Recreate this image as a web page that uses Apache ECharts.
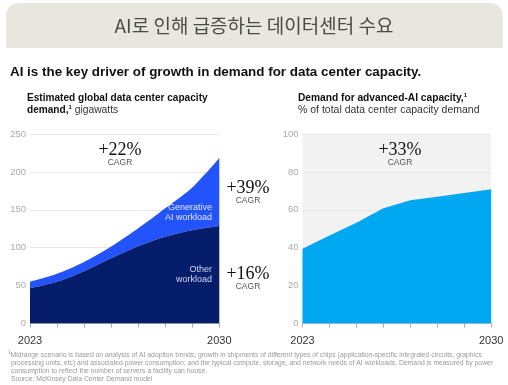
<!DOCTYPE html>
<html><head><meta charset="utf-8">
<script src="https://cdn.jsdelivr.net/npm/echarts@6/dist/echarts.min.js"></script>
<style>html,body{margin:0;padding:0;background:#fff}#c{width:508px;height:385px}</style>
</head><body><div id="c"></div>
<script>
const years = ['2023','2024','2025','2026','2027','2028','2029','2030'];
const otherWorkload = [46.5, 55, 69, 86, 102, 114.5, 123, 128.5];
const generativeAI = [8.5, 10.5, 12, 15.5, 23.5, 37.5, 56.5, 90];
const advancedAIShare = [39.5, 46.5, 53.2, 60.8, 65, 66.9, 68.9, 70.8];
const leftTicks = {min: 0, max: 250, interval: 50};
const rightTicks = {min: 0, max: 100, interval: 20};

const chart = echarts.init(document.getElementById('c'), null, {renderer: 'canvas'});
const sans = 'Liberation Sans, Arial, sans-serif';
const serif = 'Liberation Serif, Times New Roman, serif';
function xAx(gi){
  return {type:'category', gridIndex:gi, data:years, boundaryGap:false,
    axisLine:{lineStyle:{color:'#bbb', width:1}},
    axisTick:{show:true, interval:0, length:4, lineStyle:{color:'#aaa'}},
    axisLabel:{interval:6, color:'#333', fontSize:11, fontFamily:sans, margin:12},
    splitLine:{show:false}};
}
function yAx(gi, t){
  return {type:'value', gridIndex:gi, min:t.min, max:t.max, interval:t.interval,
    axisLine:{show:false}, axisTick:{show:false},
    axisLabel:{color:'#aaa', fontSize:9.5, fontFamily:sans, margin:4},
    splitLine:{lineStyle:{color:'#e6e6e6', width:1}}};
}
function txt(x, y, s, font, color, align, extra){
  return Object.assign({type:'text', x:x, y:y, style:{text:s, font:font, fill:color, textAlign:align||'left', textVerticalAlign:'middle'}}, extra||{});
}
const fn = '6.8px '+sans;
const sup = {font:'bold 6px '+sans, fill:'#111', padding:[0,0,6,0]};
chart.setOption({
  animation:false,
  grid:[
    {left:30, right:288.7, top:134, bottom:61.5},
    {left:302.5, right:16.8, top:134, bottom:61.5, show:true, backgroundColor:'#f2f2f2', borderWidth:0}
  ],
  xAxis:[xAx(0), xAx(1)],
  yAxis:[yAx(0, leftTicks), yAx(1, rightTicks)],
  series:[
    {name:'Other workload', type:'line', xAxisIndex:0, yAxisIndex:0, stack:'a', data:otherWorkload, smooth:0.3,
     showSymbol:false, lineStyle:{width:0}, areaStyle:{color:'#061d6c', opacity:1}, z:3},
    {name:'Generative AI workload', type:'line', xAxisIndex:0, yAxisIndex:0, stack:'a', data:generativeAI, smooth:0.3,
     showSymbol:false, lineStyle:{width:0}, areaStyle:{color:'#2354fb', opacity:1}, z:2},
    {name:'Advanced AI', type:'line', xAxisIndex:1, yAxisIndex:1, data:advancedAIShare, smooth:false,
     showSymbol:false, lineStyle:{width:0}, areaStyle:{color:'#00a8f2', opacity:1}}
  ],
  graphic:[
    {type:'rect', shape:{x:6, y:3, width:497, height:45, r:[13,13,0,0]}, style:{fill:'#e9e5df'}, z:-10},
    txt(254, 26, 'AI로 인해 급증하는 데이터센터 수요', '19px "Noto Sans CJK KR", sans-serif', '#4a4a4a', 'center'),
    txt(10, 72, 'AI is the key driver of growth in demand for data center capacity.', 'bold 13.4px '+sans, '#111'),
    txt(27, 98, 'Estimated global data center capacity', 'bold 10.1px '+sans, '#111'),
    {type:'text', x:27, y:110, style:{textVerticalAlign:'middle', rich:{b:{font:'bold 10.1px '+sans, fill:'#111'}, s:sup, r:{font:'10.3px '+sans, fill:'#333'}}, text:'{b|demand,}{s|1}{r| gigawatts}'}},
    {type:'text', x:298, y:98, style:{textVerticalAlign:'middle', rich:{b:{font:'bold 10.2px '+sans, fill:'#111'}, s:sup}, text:'{b|Demand for advanced-AI capacity,}{s|1}'}},
    txt(298, 110, '% of total data center capacity demand', '10.5px '+sans, '#333'),
    txt(120, 150, '+22%', '18px '+serif, '#111', 'center'),
    txt(120, 163, 'CAGR', '8.5px '+sans, '#555', 'center'),
    txt(248, 188, '+39%', '18px '+serif, '#111', 'center'),
    txt(248, 201, 'CAGR', '8.5px '+sans, '#555', 'center'),
    txt(248, 274, '+16%', '18px '+serif, '#111', 'center'),
    txt(248, 287, 'CAGR', '8.5px '+sans, '#555', 'center'),
    txt(400, 150, '+33%', '18px '+serif, '#111', 'center'),
    txt(400, 163, 'CAGR', '8.5px '+sans, '#555', 'center'),
    txt(212, 208, 'Generative', '9px '+sans, '#dfe6ff', 'right', {z:10}),
    txt(212, 218, 'AI workload', '9px '+sans, '#dfe6ff', 'right', {z:10}),
    txt(212, 270, 'Other', '9px '+sans, '#cfd6ee', 'right', {z:10}),
    txt(212, 280, 'workload', '9px '+sans, '#cfd6ee', 'right', {z:10}),
    {type:'text', x:8, y:355, style:{textVerticalAlign:'middle', rich:{s:{font:'4.6px '+sans, fill:'#999', padding:[0,0,4,0]}, r:{font:fn, fill:'#999'}}, text:'{s|1}{r|Midrange scenario is based on analysis of AI adoption trends; growth in shipments of different types of chips (application-specific integrated circuits, graphics}'}},
    txt(11, 363, 'processing units, etc) and associated power consumption; and the typical compute, storage, and network needs of AI workloads. Demand is measured by power', fn, '#999'),
    txt(11, 371, 'consumption to reflect the number of servers a facility can house.', fn, '#999'),
    txt(11, 379, 'Source: McKinsey Data Center Demand model', fn, '#999')
  ]
});
</script></body></html>
